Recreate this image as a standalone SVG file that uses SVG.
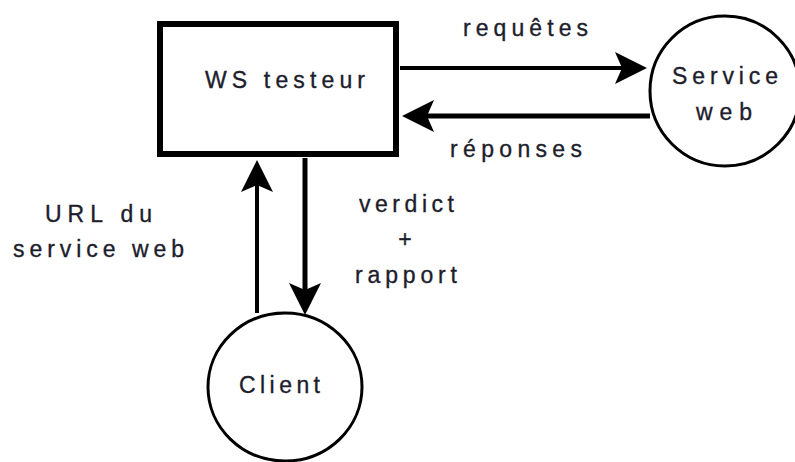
<svg xmlns="http://www.w3.org/2000/svg" width="795" height="462" viewBox="0 0 795 462">
  <defs>
    <style>
      .lbl { font-family: "Liberation Sans", Arial, sans-serif; font-size: 23px; fill: #1d1d2c; stroke: #1d1d2c; stroke-width: 0.35px; }
      .edge { stroke: #000; fill: none; }
      .shape { stroke: #000; fill: #fff; }
    </style>
    <marker id="head" viewBox="0 -16 32 32" refX="7" refY="0" markerWidth="32" markerHeight="32" markerUnits="userSpaceOnUse" orient="auto">
      <path d="M32,0 L0,-16 L7,0 L0,16 Z" fill="#000"/>
    </marker>
  </defs>
  <rect width="795" height="462" fill="#fff"/>

  <g id="ws-testeur">
    <rect class="shape" x="160" y="24" width="236" height="130" stroke-width="6"/>
    <text class="lbl" x="205" y="88" textLength="160" lengthAdjust="spacing">WS testeur</text>
  </g>

  <g id="service-web">
    <circle class="shape" cx="725" cy="91" r="75" stroke-width="3"/>
    <text class="lbl" x="672" y="84" textLength="106" lengthAdjust="spacing">Service</text>
    <text class="lbl" x="696" y="120" textLength="56" lengthAdjust="spacing">web</text>
  </g>

  <g id="client">
    <ellipse class="shape" cx="285" cy="387" rx="77" ry="74" stroke-width="3"/>
    <text class="lbl" x="239" y="393" textLength="81" lengthAdjust="spacing">Client</text>
  </g>

  <g id="connectors">
    <line class="edge" x1="400" y1="68" x2="622" y2="68" stroke-width="4" marker-end="url(#head)"/>
    <line class="edge" x1="650" y1="116" x2="427" y2="116" stroke-width="5" marker-end="url(#head)"/>
    <line class="edge" x1="257" y1="313" x2="257" y2="185" stroke-width="4" marker-end="url(#head)"/>
    <line class="edge" x1="305" y1="158" x2="305" y2="290" stroke-width="5" marker-end="url(#head)"/>
  </g>

  <g id="labels">
    <text class="lbl" x="463" y="36" textLength="125" lengthAdjust="spacing">requêtes</text>
    <text class="lbl" x="450" y="157" textLength="132" lengthAdjust="spacing">réponses</text>
    <text class="lbl" x="45" y="222" textLength="107" lengthAdjust="spacing">URL du</text>
    <text class="lbl" x="13" y="257" textLength="171" lengthAdjust="spacing">service web</text>
    <text class="lbl" x="359" y="212" textLength="95" lengthAdjust="spacing">verdict</text>
    <text class="lbl" x="405" y="247" text-anchor="middle">+</text>
    <text class="lbl" x="355" y="283" textLength="102" lengthAdjust="spacing">rapport</text>
  </g>
</svg>
